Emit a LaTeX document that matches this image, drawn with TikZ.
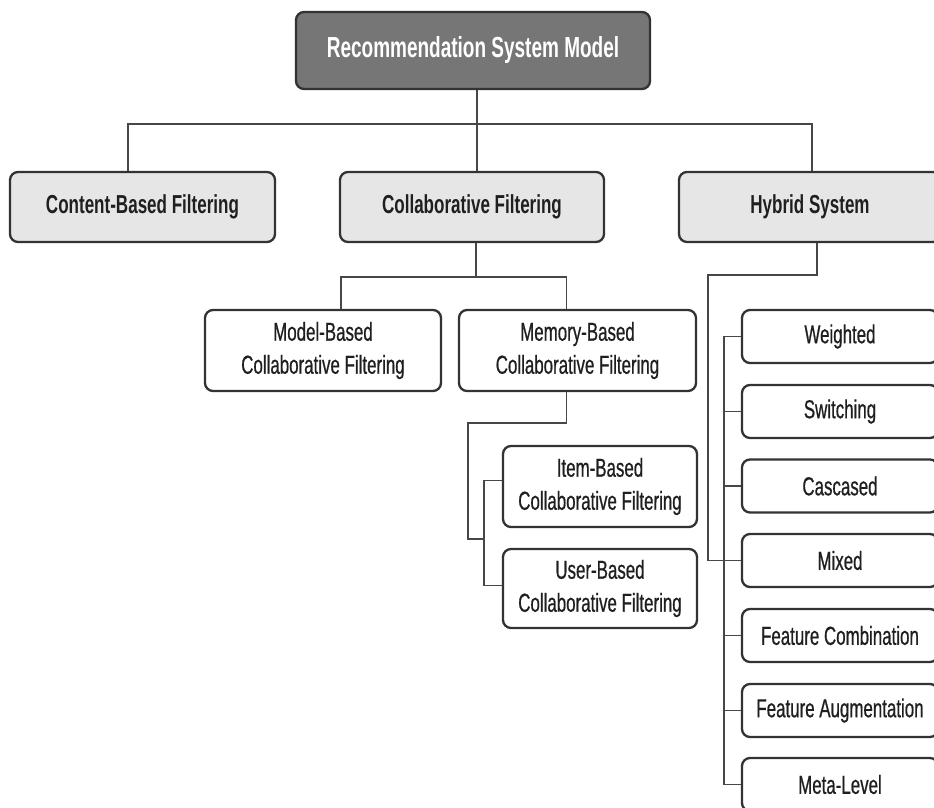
\documentclass[tikz,border=0pt]{standalone}
\usepackage{fontspec}
\setmainfont{Liberation Sans}[FakeStretch=0.655]
\newfontfamily\boxfont{Liberation Sans}[FakeStretch=0.65, FakeBold=0.6]
\definecolor{edge}{HTML}{333333}
\definecolor{topfill}{HTML}{767676}
\definecolor{lvlfill}{HTML}{E6E6E6}
\begin{document}
\begin{tikzpicture}[x=1pt,y=-1pt,
  box/.style={draw=edge, line width=2.3pt, rounded corners=8pt, fill=white,
    align=center, inner sep=0pt, text=black!88,
    font=\fontsize{26}{33}\selectfont\boxfont},
  topbox/.style={box, fill=topfill, text=white, minimum width=354pt, minimum height=77pt,
    font=\fontsize{29}{34}\selectfont\bfseries},
  lvlbox/.style={box, fill=lvlfill, minimum height=70pt,
    font=\fontsize{26}{33}\selectfont\bfseries},
  subbox/.style={box, minimum height=81pt},
  rbox/.style={box, minimum width=196pt, minimum height=53pt},
  conn/.style={draw=edge!90, line width=1.8pt}
]
\clip (0,0) rectangle (934,808);
\fill[white] (0,0) rectangle (934,808);

\node[topbox] (top) at (473,50.5) {Recommendation System Model};

\node[lvlbox, minimum width=265pt] (cbf) at (142.5,207) {Content-Based Filtering};
\node[lvlbox, minimum width=264pt] (cf) at (472,207) {Collaborative Filtering};
\node[lvlbox, minimum width=262pt] (hs) at (810,207) {Hybrid System};

\node[subbox, minimum width=236pt] (mb) at (323,350.5) {Model-Based\\Collaborative Filtering};
\node[subbox, minimum width=237pt] (memb) at (577.5,350.5) {Memory-Based\\Collaborative Filtering};

\node[subbox, minimum width=194pt] (item) at (600,486.5) {Item-Based\\Collaborative Filtering};
\node[subbox, minimum width=194pt, minimum height=79pt] (user) at (600,588.5) {User-Based\\Collaborative Filtering};

\node[rbox] (r1) at (840,336.5) {Weighted};
\node[rbox] (r2) at (840,411.5) {Switching};
\node[rbox] (r3) at (840,486) {Cascased};
\node[rbox] (r4) at (840,560.5) {Mixed};
\node[rbox] (r5) at (840,635.5) {Feature Combination};
\node[rbox] (r6) at (840,710.5) {Feature Augmentation};
\node[rbox] (r7) at (840,784.5) {Meta-Level};

% top level
\draw[conn] ([xshift=4pt]top.south) -- ([xshift=4pt]top.south |- cf.north);
\draw[conn] ([xshift=-14.5pt]cbf.north) -- ++(0,-47) -| ([xshift=2pt]hs.north);

% collaborative
\draw[conn] ([xshift=4pt]cf.south) |- ([xshift=18pt,yshift=32pt]mb.north) -- ([xshift=18pt]mb.north);
\draw[conn] ([xshift=4pt]cf.south) |- ([xshift=-11pt,yshift=32pt]memb.north) -- ([xshift=-11pt]memb.north);

% memory based
\coordinate (mj1) at (468,423);
\coordinate (mj2) at (485,539);
\draw[conn] ([xshift=-11pt]memb.south) |- (mj1) |- (mj2);
\draw[conn] ([yshift=6pt]item.west) -- ++(-18,0) |- ([yshift=3pt]user.west);

% hybrid
\coordinate (hj1) at (708,275);
\coordinate (hj2) at (725,560.5);
\draw[conn] ([xshift=7pt]hs.south) |- (hj1) |- (hj2);
\draw[conn] (r1.west) -- ++(-17,0) |- (r7.west);
\foreach \i in {2,...,6} \draw[conn] (r\i.west) -- ++(-17,0);
\end{tikzpicture}
\end{document}
